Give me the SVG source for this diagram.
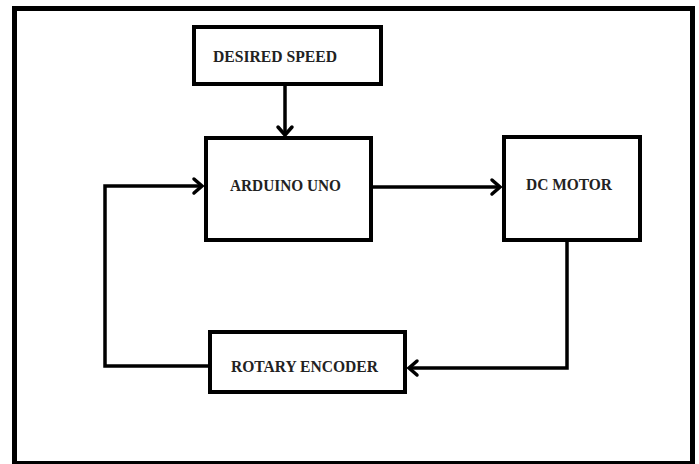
<svg xmlns="http://www.w3.org/2000/svg" width="699" height="464" viewBox="0 0 699 464">
<style>
.box{fill:#fff;stroke:#000;stroke-width:4}
.lbl{font-family:"Liberation Serif","Times New Roman",serif;font-weight:bold;font-size:16px;fill:#222}
.con{fill:none;stroke:#000;stroke-width:3.5;stroke-linejoin:miter}
</style>
<defs>
<marker id="arr" markerUnits="userSpaceOnUse" markerWidth="14" markerHeight="18" refX="10" refY="8" orient="auto" overflow="visible">
<path d="M2,1 L10,8 L2,15" fill="none" stroke="#000" stroke-width="3.5" stroke-linecap="round"/>
</marker>
</defs>
<rect x="0" y="0" width="699" height="464" fill="#fff"/>
<rect x="14.5" y="8.5" width="678" height="455" fill="none" stroke="#000" stroke-width="5"/>
<g id="connectors">
<path class="con" d="M285,84 L285,135" marker-end="url(#arr)"/>
<path class="con" d="M373,187 L500,187" marker-end="url(#arr)"/>
<path class="con" d="M567,242 L567,368 L409,368" marker-end="url(#arr)"/>
<path class="con" d="M208,366 L105,366 L105,186 L202,186" marker-end="url(#arr)"/>
</g>
<g id="desired-speed">
<rect class="box" x="194" y="27" width="187" height="57"/>
<text class="lbl" x="213" y="62" textLength="124" lengthAdjust="spacingAndGlyphs">DESIRED SPEED</text>
</g>
<g id="arduino-uno">
<rect class="box" x="206" y="138" width="165" height="102"/>
<text class="lbl" x="230" y="191" textLength="111" lengthAdjust="spacingAndGlyphs">ARDUINO UNO</text>
</g>
<g id="dc-motor">
<rect class="box" x="504" y="137" width="136" height="103"/>
<text class="lbl" x="526" y="190" textLength="86" lengthAdjust="spacingAndGlyphs">DC MOTOR</text>
</g>
<g id="rotary-encoder">
<rect class="box" x="210" y="332" width="195" height="60"/>
<text class="lbl" x="231" y="372" textLength="147" lengthAdjust="spacingAndGlyphs">ROTARY ENCODER</text>
</g>
</svg>
